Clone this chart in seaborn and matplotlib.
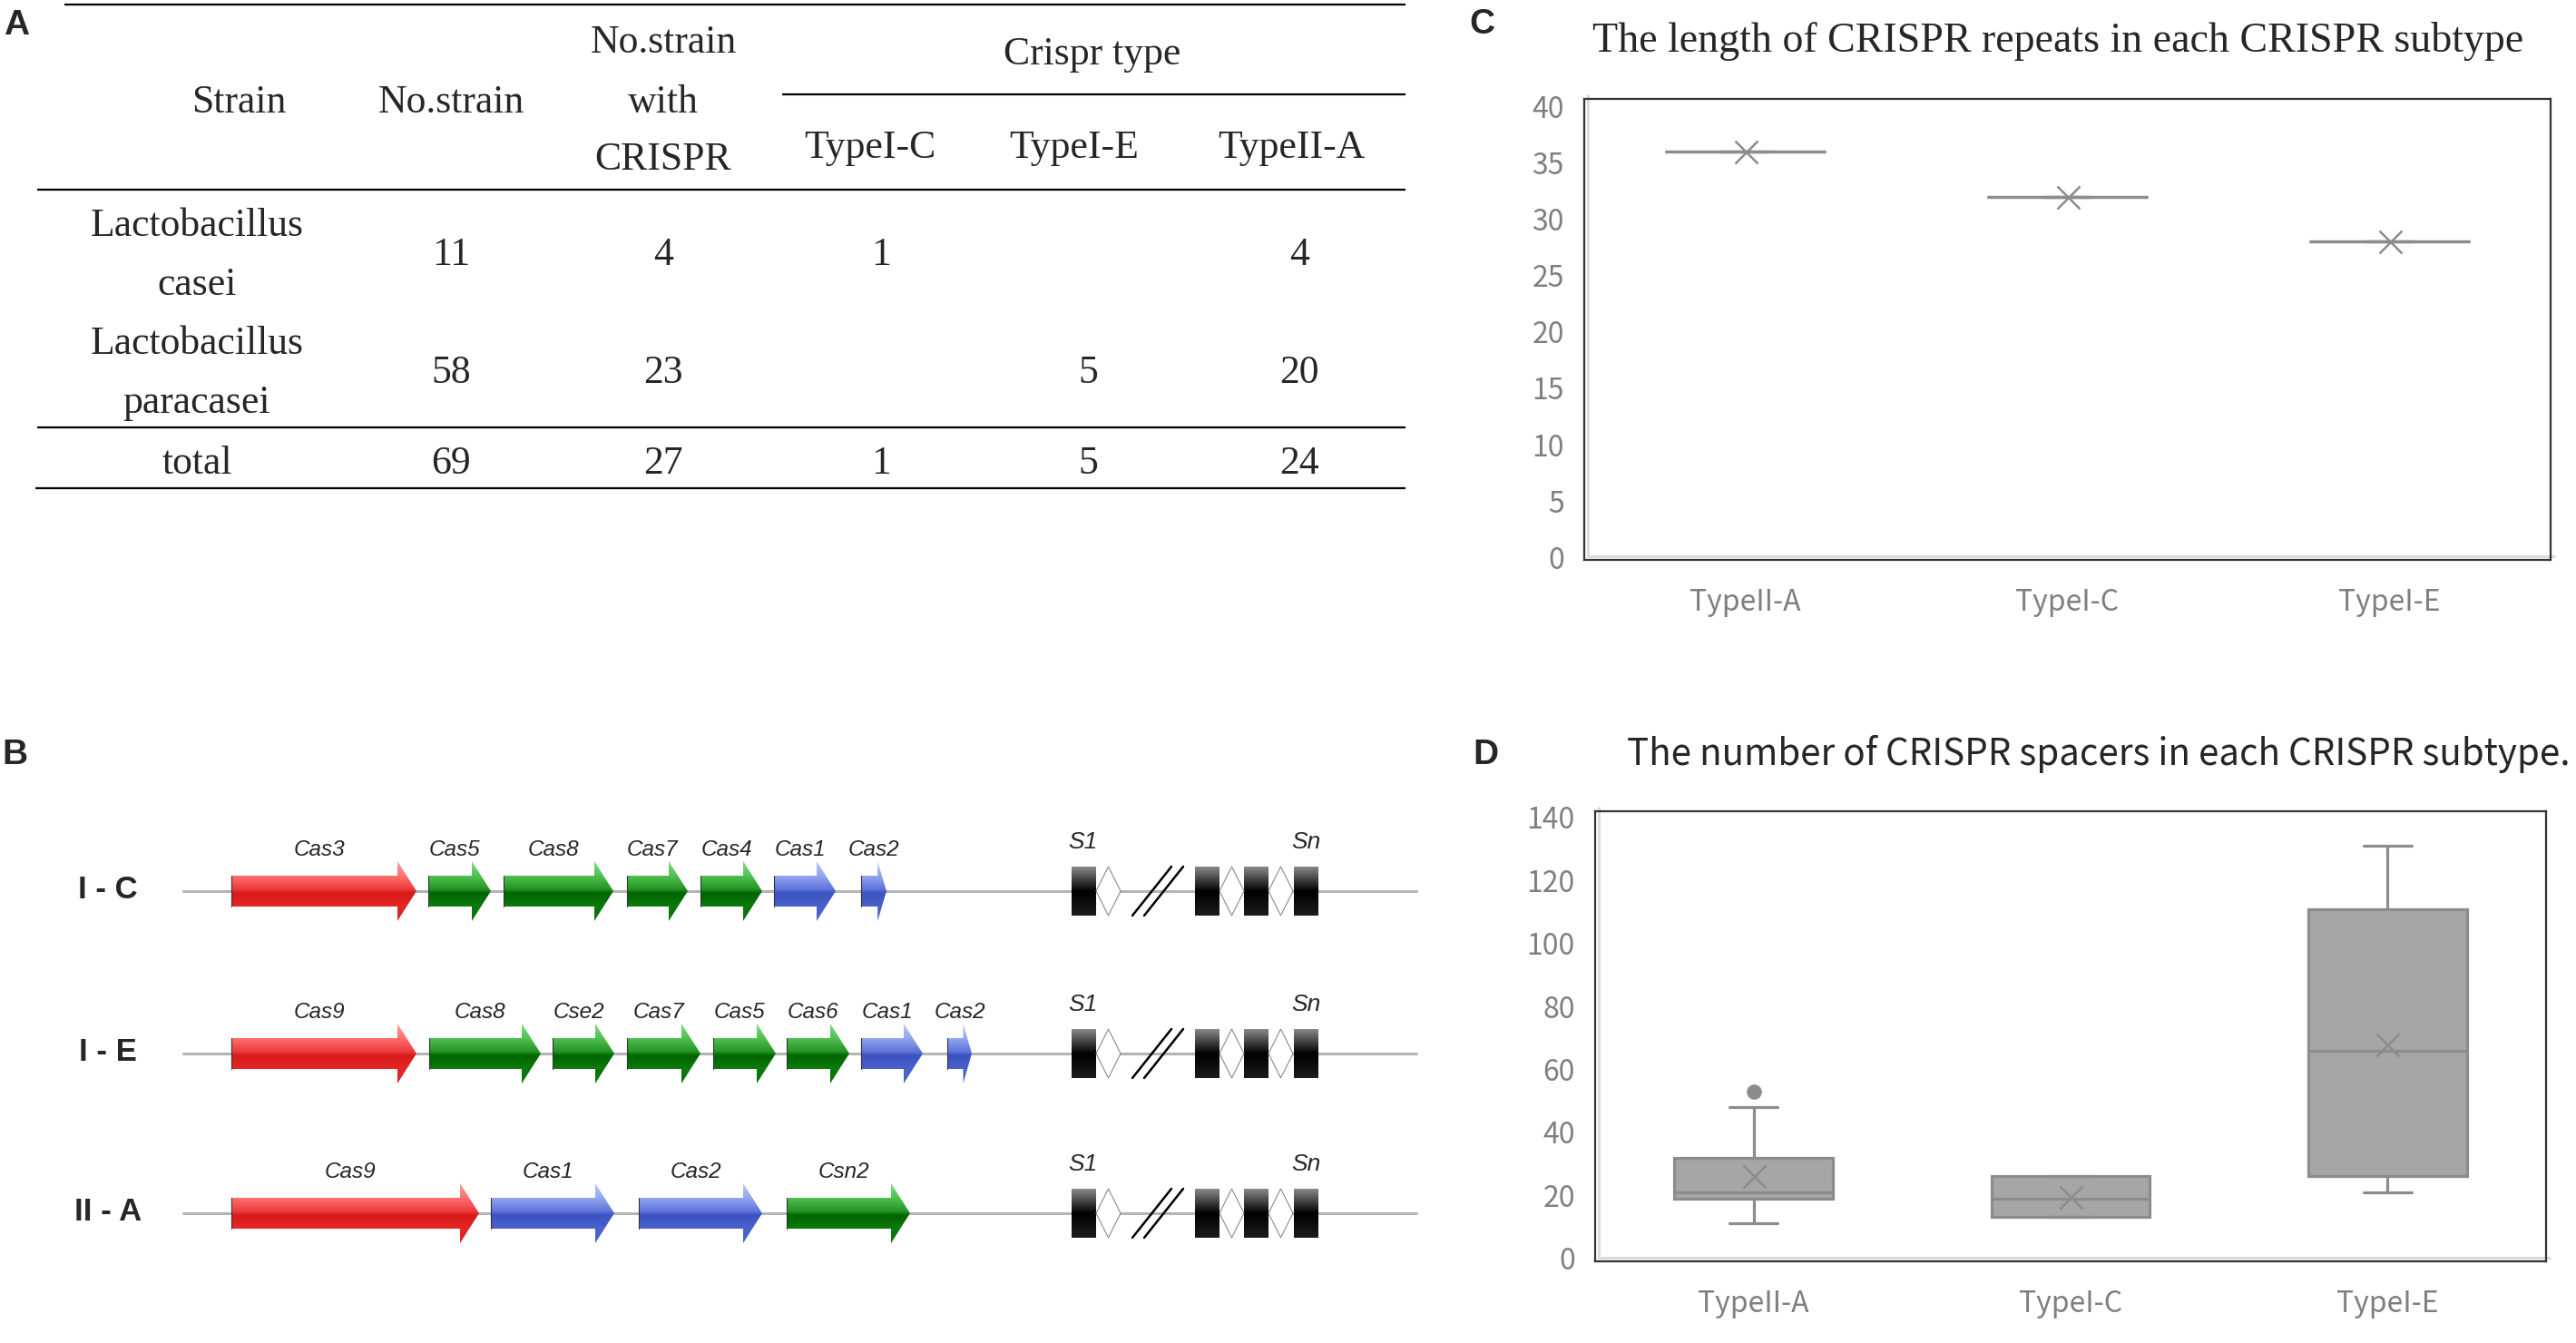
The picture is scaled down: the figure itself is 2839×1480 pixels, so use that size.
import numpy as np
import pandas as pd
import matplotlib
matplotlib.use("Agg")
import matplotlib.pyplot as plt
import seaborn as sns
from matplotlib.patches import Polygon, Rectangle
from matplotlib.colors import LinearSegmentedColormap
from matplotlib.transforms import ScaledTranslation

W, H, DPI = 2839, 1480, 100

# ---------------- data ----------------
# A: table
crispr_types = ["TypeI-C", "TypeI-E", "TypeII-A"]
strain_names = [["Lactobacillus", "casei"], ["Lactobacillus", "paracasei"], ["total"]]
n_strain = ["11", "58", "69"]
n_with_crispr = ["4", "23", "27"]
n_type_ic = ["1", "", "1"]
n_type_ie = ["", "5", "5"]
n_type_iia = ["4", "20", "24"]

# B: cas operons (start / end of each gene on the drawing scale)
row_labels = ["I - C", "I - E", "II - A"]
ic_genes = ["Cas3", "Cas5", "Cas8", "Cas7", "Cas4", "Cas1", "Cas2"]
ic_start = [255, 472, 555, 691, 772, 853, 949]
ic_end = [459, 541, 676, 758, 840, 921, 977]
ic_color = ["red", "green", "green", "green", "green", "blue", "blue"]
ie_genes = ["Cas9", "Cas8", "Cse2", "Cas7", "Cas5", "Cas6", "Cas1", "Cas2"]
ie_start = [255, 473, 609, 691, 786, 867, 949, 1044]
ie_end = [459, 596, 677, 772, 855, 936, 1017, 1071]
ie_color = ["red", "green", "green", "green", "green", "green", "blue", "blue"]
iia_genes = ["Cas9", "Cas1", "Cas2", "Csn2"]
iia_start = [255, 541, 704, 867]
iia_end = [528, 677, 840, 1003]
iia_color = ["red", "blue", "blue", "green"]
repeat_start = [1181, 1317, 1371, 1426]
spacer_start = [1208, 1344, 1398]

# C: repeat length per subtype
subtypes = ["TypeII-A", "TypeI-C", "TypeI-E"]
repeat_iia = [36, 36, 36, 36]
repeat_ic = [32]
repeat_ie = [28, 28, 28, 28, 28]
c_yticks = [0, 5, 10, 15, 20, 25, 30, 35, 40]

# D: spacer number per subtype
spacer_iia = [11, 13, 15, 16, 17, 19, 19, 20, 20, 20, 21, 21,
              21, 22, 24, 26, 29, 32, 32, 37, 41, 47, 48, 53]
spacer_ic = [13, 13, 19, 26, 26]
spacer_ie = [21, 24, 26, 41, 66, 72, 111, 120, 131]
d_yticks = [0, 20, 40, 60, 80, 100, 120, 140]

# ---------------- figure ----------------
sns.set_style("white")
plt.rcParams["font.family"] = ["Noto Sans CJK SC", "DejaVu Sans"]

fig = plt.figure(figsize=(W / DPI, H / DPI), dpi=DPI)


def px_axes(left, top, right, bottom):
    return fig.add_axes([left / W, 1 - bottom / H, (right - left) / W, (bottom - top) / H])


def fig_text(x, y, s, **kw):
    fig.text(x / W, 1 - y / H, s, **kw)


letter = dict(family="Liberation Sans", weight="bold", size=28, va="baseline", ha="left")
fig_text(4, 38, "A", **letter)
fig_text(2, 842, "B", **letter)
fig_text(1619, 37, "C", **letter)
fig_text(1623, 842, "D", **letter)

# ---------------- A: table ----------------
axA = px_axes(0, 0, 1600, 700)
axA.set_xlim(0, 1600)
axA.set_ylim(700, 0)
axA.axis("off")
for y, x0, x1 in [(4.5, 71, 1549), (104, 862, 1549), (209, 41, 1549),
                  (471, 41, 1549), (538, 39, 1549)]:
    axA.plot([x0, x1], [y, y], color="black", lw=1.6, solid_capstyle="butt")

serif = dict(family="Liberation Serif", size=31.5, ha="center", va="baseline")
axA.text(263, 124, "Strain", **serif)
axA.text(497, 124, "No.strain", **serif)
for s, yb in zip(["No.strain", "with", "CRISPR"], [58, 124, 187]):
    axA.text(731, yb, s, **serif)
axA.text(1204, 71, "Crispr type", **serif)
for s, x in zip(crispr_types, [959, 1184, 1423]):
    axA.text(x, 174, s, **serif)

num_base = [292, 422, 522]
name_base = [[260, 325], [390, 455], [522]]
col_x = [497, 731, 971, 1199, 1432]
for i in range(3):
    for s, yb in zip(strain_names[i], name_base[i]):
        axA.text(217, yb, s, **serif)
    for x, v in zip(col_x, [n_strain[i], n_with_crispr[i], n_type_ic[i],
                            n_type_ie[i], n_type_iia[i]]):
        axA.text(x, num_base[i], v, **serif)

# ---------------- B: operon diagram ----------------
axB = px_axes(0, 780, 1600, 1480)

gene_cmaps = {
    "red": LinearSegmentedColormap.from_list("r", [(0, "#ffa0a0"), (0.25, "#ff6e6e"), (0.47, "#ec3a3a"),
                                                   (0.53, "#d81a1a"), (0.75, "#e32626"), (1, "#e02222")]),
    "green": LinearSegmentedColormap.from_list("g", [(0, "#86dc86"), (0.25, "#4fbf4f"), (0.47, "#239423"),
                                                     (0.53, "#006400"), (0.75, "#0c7a0c"), (1, "#0a720a")]),
    "blue": LinearSegmentedColormap.from_list("b", [(0, "#c0cbf7"), (0.25, "#92a4ef"), (0.47, "#5d74da"),
                                                    (0.53, "#3b52bf"), (0.75, "#4a62cc"), (1, "#4a62cc")]),
}
repeat_cmap = LinearSegmentedColormap.from_list("k", [(0, "#8a8a8a"), (0.5, "#000000"), (1, "#1c1c1c")])
grad = np.linspace(0, 1, 256).reshape(-1, 1)

rows = [(ic_genes, ic_start, ic_end, ic_color),
        (ie_genes, ie_start, ie_end, ie_color),
        (iia_genes, iia_start, iia_end, iia_color)]
row_y = [982, 1161, 1337]

for (genes, starts, ends, colors), yc, lab in zip(rows, row_y, row_labels):
    axB.plot([202, 1561], [yc, yc], color="#b4b4b4", lw=2.2, zorder=1)
    axB.text(119, yc + 8, lab, family="Liberation Sans", weight="bold", size=25,
             ha="center", va="baseline")
    for g, x0, x1, c in zip(genes, starts, ends, colors):
        head = min(21, 0.35 * (x1 - x0))
        xb = x1 - head
        verts = [(x0, yc - 17), (xb, yc - 17), (xb, yc - 33), (x1, yc),
                 (xb, yc + 33), (xb, yc + 17), (x0, yc + 17)]
        poly = Polygon(verts, closed=True, facecolor="none", edgecolor="none", zorder=2)
        axB.add_patch(poly)
        im = axB.imshow(grad, cmap=gene_cmaps[c], extent=[x0, x1, yc + 33, yc - 33],
                        aspect="auto", origin="upper", interpolation="bilinear", zorder=2)
        im.set_clip_path(poly)
        axB.plot([x0, x0], [yc - 17, yc + 17], color="#333333", lw=0.8, zorder=3)
        axB.text((x0 + xb) / 2 + 5, yc - 39, g, family="Liberation Sans", style="italic",
                 size=17.5, ha="center", va="baseline")
    # CRISPR array
    for x0 in repeat_start:
        rect = Rectangle((x0, yc - 27), 27, 54, facecolor="none", edgecolor="none")
        axB.add_patch(rect)
        im = axB.imshow(grad, cmap=repeat_cmap, extent=[x0, x0 + 27, yc + 27, yc - 27],
                        aspect="auto", origin="upper", interpolation="bilinear", zorder=2)
        im.set_clip_path(rect)
    for x0 in spacer_start:
        axB.add_patch(Polygon([(x0, yc), (x0 + 13.5, yc - 27), (x0 + 27, yc), (x0 + 13.5, yc + 27)],
                              closed=True, facecolor="white", edgecolor="#8a8a8a", lw=0.8, zorder=3))
    for dx in [0, 13]:
        axB.plot([1248 + dx, 1291 + dx], [yc + 27, yc - 27], color="black", lw=1.8, zorder=3)
    axB.text(1193, yc - 47, "S1", family="Liberation Sans", style="italic", size=19,
             ha="center", va="baseline")
    axB.text(1439, yc - 47, "Sn", family="Liberation Sans", style="italic", size=19,
             ha="center", va="baseline")

axB.set_xlim(0, 1600)
axB.set_ylim(1480, 780)
axB.set_aspect("auto")
axB.axis("off")

# ---------------- C & D: seaborn box plots ----------------
df_c = pd.concat([pd.DataFrame({"subtype": s, "value": v})
                  for s, v in zip(subtypes, [repeat_iia, repeat_ic, repeat_ie])])
df_d = pd.concat([pd.DataFrame({"subtype": s, "value": v})
                  for s, v in zip(subtypes, [spacer_iia, spacer_ic, spacer_ie])])

line_gray = "#8c8c8c"
box_kw = dict(x="subtype", y="value", order=subtypes, width=0.5, color="#a6a6a6",
              linecolor=line_gray, linewidth=2.3, showmeans=True, fliersize=11,
              meanprops=dict(marker="x", markeredgecolor=line_gray, markerfacecolor=line_gray,
                             markersize=18, markeredgewidth=1.8),
              flierprops=dict(marker="o", markerfacecolor=line_gray, markeredgecolor=line_gray),
              capwidths=0.15)

axC = px_axes(1746, 109, 2811, 617)
axD = px_axes(1758, 894, 2806, 1390)
sns.boxplot(data=df_c, ax=axC, **box_kw)
sns.boxplot(data=df_d, ax=axD, **box_kw)

for ax, ticks, lim in [(axC, c_yticks, (-0.2, 40.65)), (axD, d_yticks, (-1, 142))]:
    ax.set_xlim(-0.5, 2.5)
    ax.set_ylim(*lim)
    ax.set_yticks(ticks)
    ax.set_xlabel("")
    ax.set_ylabel("")
    ax.tick_params(axis="both", length=0, labelsize=23, labelcolor="#7f7f7f")
    ax.tick_params(axis="y", pad=16)
    ax.tick_params(axis="x", pad=22)
    for s in ax.spines.values():
        s.set_visible(True)
        s.set_color("#333333")
        s.set_linewidth(1.6)
    off = ScaledTranslation(4 / DPI, 4 / DPI, fig.dpi_scale_trans)
    ax.plot([0, 1], [0, 0], transform=ax.transAxes + off, color="#d9d9d9", lw=2, clip_on=False)
    ax.plot([0, 0], [0, 1], transform=ax.transAxes + off, color="#d9d9d9", lw=2, clip_on=False)

fig_text(2268, 57, "The length of CRISPR repeats in each CRISPR subtype",
         family="Liberation Serif", size=33, ha="center", va="baseline")
fig_text(2313, 843, "The number of CRISPR spacers in each CRISPR subtype.",
         size=29, ha="center", va="baseline")

fig.savefig("out.png", dpi=DPI)
